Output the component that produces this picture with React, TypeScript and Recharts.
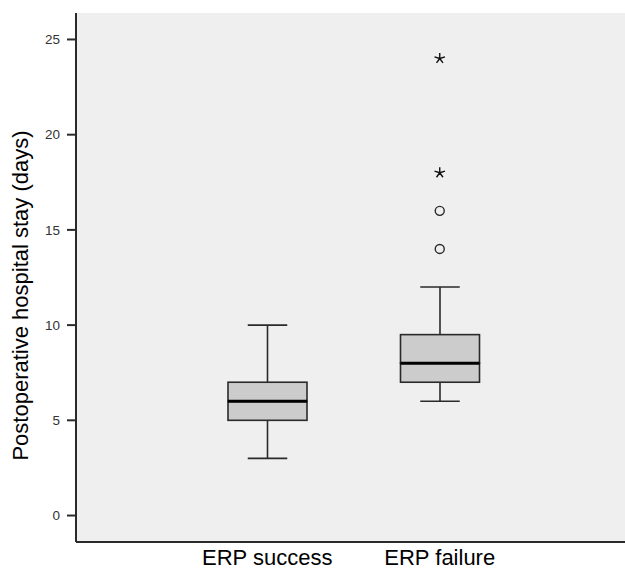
import { ComposedChart, Bar, Scatter, XAxis, YAxis, CartesianGrid } from 'recharts';

const categories = ['ERP success', 'ERP failure'];
const minValues = [3, 6];
const q1Values = [5, 7];
const medianValues = [6, 8];
const q3Values = [7, 9.5];
const maxValues = [10, 12];

// outliers: circles are mild, stars are extreme
const circleOutliers = [
  { cat: 'ERP failure', v: 14 },
  { cat: 'ERP failure', v: 16 },
];
const starOutliers = [
  { cat: 'ERP failure', v: 18 },
  { cat: 'ERP failure', v: 24 },
];

const yTicks = [0, 5, 10, 15, 20, 25];

const data = categories.map((cat, i) => ({
  cat,
  base: minValues[i],
  lowWhisker: q1Values[i] - minValues[i],
  boxLow: medianValues[i] - q1Values[i],
  boxHigh: q3Values[i] - medianValues[i],
  highWhisker: maxValues[i] - q3Values[i],
}));

const LINE = '#2a2a2a';

const Empty = () => <g />;

const LowWhisker = (p: any) => {
  const cx = p.x + p.width / 2;
  const cap = p.width / 4;
  return (
    <g>
      <line x1={cx} x2={cx} y1={p.y} y2={p.y + p.height} stroke={LINE} strokeWidth={1.6} />
      <line x1={cx - cap} x2={cx + cap} y1={p.y + p.height} y2={p.y + p.height} stroke={LINE} strokeWidth={1.6} />
    </g>
  );
};

const HighWhisker = (p: any) => {
  const cx = p.x + p.width / 2;
  const cap = p.width / 4;
  return (
    <g>
      <line x1={cx} x2={cx} y1={p.y} y2={p.y + p.height} stroke={LINE} strokeWidth={1.6} />
      <line x1={cx - cap} x2={cx + cap} y1={p.y} y2={p.y} stroke={LINE} strokeWidth={1.6} />
    </g>
  );
};

const BoxLow = (p: any) => (
  <rect x={p.x} y={p.y} width={p.width} height={p.height} fill="#cccccc" stroke={LINE} strokeWidth={1.6} />
);

const BoxHigh = (p: any) => (
  <g>
    <rect x={p.x} y={p.y} width={p.width} height={p.height} fill="#cccccc" stroke={LINE} strokeWidth={1.6} />
    <line x1={p.x} x2={p.x + p.width} y1={p.y + p.height} y2={p.y + p.height} stroke="#000" strokeWidth={3} />
  </g>
);

const CircleMark = (p: any) => (
  <circle cx={p.cx} cy={p.cy} r={4.5} fill="none" stroke={LINE} strokeWidth={1.4} />
);

const StarMark = (p: any) => {
  const r = 5.5;
  const d = [0, 1, 2, 3, 4]
    .map((k) => {
      const a = (-90 + k * 72) * (Math.PI / 180);
      return `M${p.cx},${p.cy}L${p.cx + r * Math.cos(a)},${p.cy + r * Math.sin(a)}`;
    })
    .join('');
  return <path d={d} stroke="#111" strokeWidth={1.4} fill="none" />;
};

const CatTick = (p: any) => (
  <text x={p.x} y={p.y + 15} textAnchor="middle" fontSize={22} fill="#000" fontFamily="Liberation Sans, Arial, sans-serif">
    {p.payload.value}
  </text>
);

const YLabel = (p: any) => {
  const vb = p.viewBox;
  const x = 28;
  const y = vb.y + vb.height / 2 + 18;
  return (
    <text x={x} y={y} transform={`rotate(-90, ${x}, ${y})`} textAnchor="middle" fontSize={22} fill="#000" fontFamily="Liberation Sans, Arial, sans-serif">
      Postoperative hospital stay (days)
    </text>
  );
};

export default function App() {
  return (
    <div style={{ position: 'absolute', left: 0, top: 0, background: '#fff' }}>
      <ComposedChart
        width={625}
        height={572}
        data={data}
        margin={{ top: 13, right: 0, bottom: 0, left: 0 }}
        style={{ fontFamily: 'Liberation Sans, Arial, sans-serif' }}
      >
        <CartesianGrid fill="#efefef" horizontal={false} vertical={false} />
        <XAxis
          dataKey="cat"
          allowDuplicatedCategory={false}
          padding={{ left: 105, right: 99 }}
          height={30}
          axisLine={{ stroke: LINE, strokeWidth: 2 }}
          tickLine={false}
          tick={CatTick}
          interval={0}
        />
        <XAxis
          xAxisId="top"
          dataKey="cat"
          orientation="top"
          allowDuplicatedCategory={false}
          height={0}
          tick={false}
          tickLine={false}
          axisLine={{ stroke: LINE, strokeWidth: 2 }}
        />
        <YAxis
          width={76}
          domain={[-1.39, 26.39]}
          ticks={yTicks}
          allowDataOverflow
          tickSize={9}
          tickMargin={7}
          tickLine={{ stroke: LINE, strokeWidth: 2 }}
          axisLine={{ stroke: LINE, strokeWidth: 2 }}
          tick={{ fontSize: 13.5, fill: '#333' }}
          label={{ content: YLabel }}
        />
        <Bar dataKey="base" stackId="box" barSize={79} shape={Empty} isAnimationActive={false} />
        <Bar dataKey="lowWhisker" stackId="box" barSize={79} shape={LowWhisker} isAnimationActive={false} />
        <Bar dataKey="boxLow" stackId="box" barSize={79} shape={BoxLow} isAnimationActive={false} />
        <Bar dataKey="boxHigh" stackId="box" barSize={79} shape={BoxHigh} isAnimationActive={false} />
        <Bar dataKey="highWhisker" stackId="box" barSize={79} shape={HighWhisker} isAnimationActive={false} />
        <Scatter data={circleOutliers} dataKey="v" shape={CircleMark} isAnimationActive={false} />
        <Scatter data={starOutliers} dataKey="v" shape={StarMark} isAnimationActive={false} />
      </ComposedChart>
    </div>
  );
}
